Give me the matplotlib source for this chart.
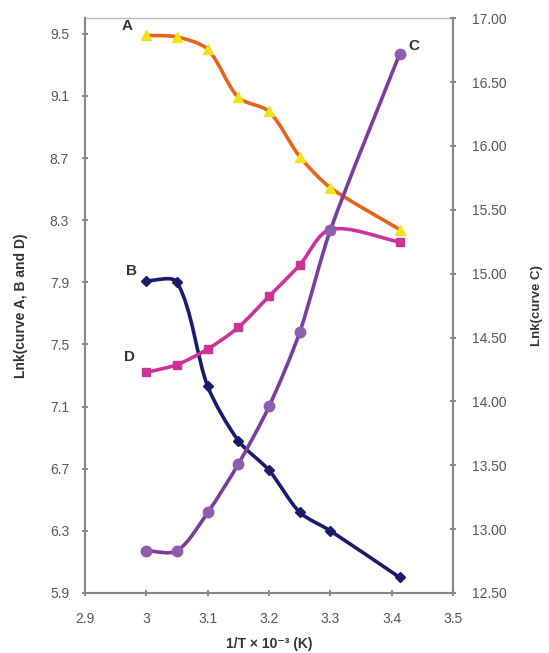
import numpy as np
import matplotlib
matplotlib.use("Agg")
import matplotlib.pyplot as plt
from matplotlib.path import Path
from matplotlib.patches import PathPatch

plt.rcParams["font.family"] = ["Liberation Sans", "DejaVu Sans"]

# 1/T x 10^-3 (K)
x = [3.0, 3.05, 3.1, 3.15, 3.2, 3.25, 3.3, 3.413]

curve_a = [9.49, 9.48, 9.40, 9.09, 9.00, 8.71, 8.51, 8.24]
curve_b = [7.91, 7.90, 7.23, 6.88, 6.69, 6.42, 6.30, 6.00]
curve_d = [7.32, 7.37, 7.47, 7.61, 7.81, 8.01, 8.24, 8.16]
curve_c = [12.83, 12.83, 13.13, 13.51, 13.96, 14.54, 15.34, 16.72]

left_ticks = [5.9, 6.3, 6.7, 7.1, 7.5, 7.9, 8.3, 8.7, 9.1, 9.5]
right_ticks = [12.5, 13.0, 13.5, 14.0, 14.5, 15.0, 15.5, 16.0, 16.5, 17.0]
x_ticks = [2.9, 3.0, 3.1, 3.2, 3.3, 3.4, 3.5]
x_ticklabels = ["2.9", "3", "3.1", "3.2", "3.3", "3.4", "3.5"]


def smooth_path(ax, xs, ys, k=0.28):
    # excel-like smoothed line, tangent scaled by segment length
    pts = ax.transData.transform(np.column_stack([xs, ys]))
    n = len(pts)
    tang = []
    for i in range(n):
        a = pts[max(i - 1, 0)]
        b = pts[min(i + 1, n - 1)]
        d = b - a
        tang.append(d / np.hypot(*d))
    verts = [pts[0]]
    codes = [Path.MOVETO]
    for i in range(n - 1):
        p1, p2 = pts[i], pts[i + 1]
        seg = np.hypot(*(p2 - p1))
        verts.extend([p1 + tang[i] * seg * k, p2 - tang[i + 1] * seg * k, p2])
        codes.extend([Path.CURVE4] * 3)
    return Path(verts, codes)


fig = plt.figure(figsize=(5.49, 6.53), dpi=100)
ax = fig.add_axes([0.155, 0.092, 0.67, 0.88])
ax2 = ax.twinx()

ax.set_xlim(2.9, 3.5)
ax.set_ylim(5.9, 9.6)
ax2.set_ylim(12.5, 17.0)

series = [
    (ax, curve_a, "#E5631A", "^", "#F2E21C", 7),
    (ax, curve_b, "#1B1B6B", "D", "#1B1B6B", 5),
    (ax, curve_d, "#CC3399", "s", "#CC3399", 6),
    (ax2, curve_c, "#7A3D9E", "o", "#8E5EAE", 7.5),
]

for a, ys, col, mk, mcol, ms in series:
    path = smooth_path(a, x, ys)
    patch = PathPatch(path, facecolor="none", edgecolor=col, lw=2.6,
                      transform=None, zorder=3, capstyle="round", joinstyle="round")
    a.add_artist(patch)
    a.plot(x, ys, linestyle="none", marker=mk, ms=ms, color=mcol,
           markeredgecolor=mcol, zorder=4)

ax.set_xticks(x_ticks)
ax.set_xticklabels(x_ticklabels)
ax.set_yticks(left_ticks)
ax.set_yticklabels([f"{v:.1f}" for v in left_ticks])
ax2.set_yticks(right_ticks)
ax2.set_yticklabels([f"{v:.2f}" for v in right_ticks])

for a in (ax, ax2):
    a.tick_params(direction="inout", length=5, width=1.2, color="#777777",
                  labelcolor="#555555", labelsize=10)
    for s in a.spines.values():
        s.set_color("#888888")
        s.set_linewidth(1.5)
ax.tick_params(axis="x", pad=11)
ax.tick_params(axis="y", pad=9)
ax2.tick_params(axis="y", pad=11)
ax.spines["top"].set_color("#bbbbbb")
ax.spines["top"].set_linewidth(1.0)
ax2.spines["top"].set_visible(False)

ax.set_xlabel("1/T × 10⁻³ (K)", fontsize=10, fontweight="bold",
              color="#333333", labelpad=8)
ax.set_ylabel("Lnk(curve A, B and D)", fontsize=10, fontweight="bold",
              color="#333333", labelpad=16)
ax2.set_ylabel("Lnk(curve C)", fontsize=9.5, fontweight="bold",
               color="#333333", labelpad=18)

lab = dict(fontsize=11, fontweight="bold", color="#333333", ha="center", va="center")
ax.text(2.968, 9.55, "A", **lab)
ax.text(2.975, 7.97, "B", **lab)
ax.text(2.972, 7.42, "D", **lab)
ax2.text(3.436, 16.78, "C", **lab)

fig.savefig("out.png", dpi=100)
